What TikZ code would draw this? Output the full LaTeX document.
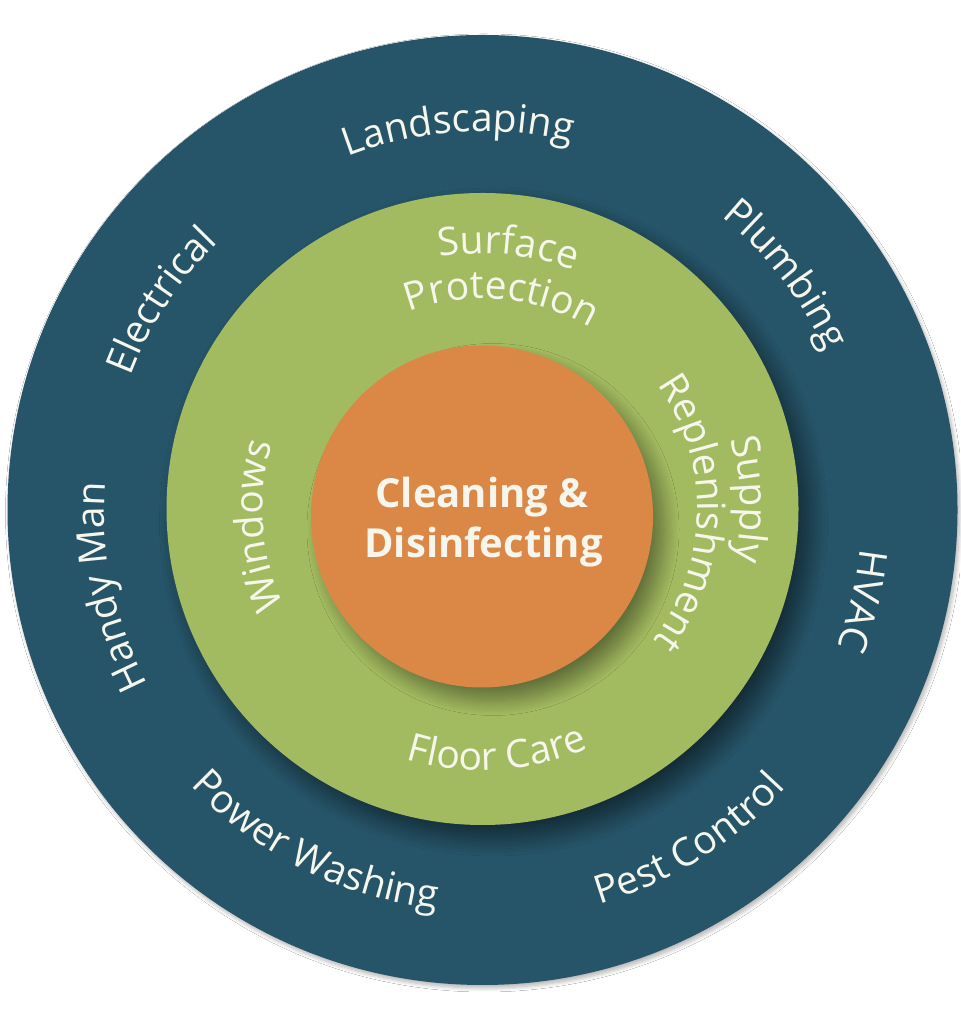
\documentclass[tikz,border=0pt]{standalone}
\usepackage{fontspec}
\setmainfont{Open Sans}
\usetikzlibrary{decorations.text,shadows.blur}
\definecolor{ringouter}{HTML}{265468}
\definecolor{ringmid}{HTML}{A3BB60}
\definecolor{ringcore}{HTML}{DB8847}
\definecolor{labeltext}{HTML}{F6F6EC}
\newcommand\labelfont{\fontsize{39}{47}\selectfont}
\def\cx{482.5}
\def\cy{514.5}
% clockwise label: tops point outward
\newcommand\cwlabel[3]{%
  \path[decorate,decoration={text along path,text align=center,
      text={|\labelfont\color{labeltext}|#3}}]
    ({\cx+#2*cos(#1+70)},{\cy+#2*sin(#1+70)}) arc[start angle={#1+70},end angle={#1-70},radius=#2];
}
% counter-clockwise label: tops point inward
\newcommand\ccwlabel[3]{%
  \path[decorate,decoration={text along path,text align=center,
      text={|\labelfont\color{labeltext}|#3}}]
    ({\cx+#2*cos(#1-70)},{\cy+#2*sin(#1-70)}) arc[start angle={#1-70},end angle={#1+70},radius=#2];
}
\tikzset{
  centretext/.style={font=\fontsize{40}{48}\selectfont\bfseries,text=labeltext,anchor=base,inner sep=0pt},
}
\begin{document}
\begin{tikzpicture}[x=1pt,y=1pt]
\fill[white] (0,0) rectangle (960,1024);
\useasboundingbox (0,0) rectangle (960,1024);
% rings
\fill[ringouter,blur shadow={shadow xshift=2pt,shadow yshift=-3pt,shadow blur radius=4pt,shadow opacity=30,shadow blur steps=8}]
  (\cx,514) circle[radius=475];
\fill[ringmid,blur shadow={shadow xshift=11pt,shadow yshift=-13pt,shadow blur radius=18pt,shadow opacity=50,shadow blur steps=14}]
  (482.5,515) circle[radius=316];
\fill[ringcore,blur shadow={shadow xshift=11pt,shadow yshift=-13pt,shadow blur radius=15pt,shadow opacity=40,shadow blur steps=14}]
  (482,507.5) circle[radius=171];
% outer labels
\cwlabel{93.7}{378}{Landscaping}
\cwlabel{37.8}{378}{Plumbing}
\cwlabel{147}{376}{Electrical}
\cwlabel{191.8}{378}{Handy Man}
\cwlabel{-13.5}{380}{HVAC}
\ccwlabel{-116.6}{402}{Power Washing}
\ccwlabel{-58}{412}{Pest Control}
% middle labels
\cwlabel{84.4}{256}{Surface}
\cwlabel{84.8}{211}{Protection}
\cwlabel{184.2}{220}{Windows}
\cwlabel{2.2}{258}{Supply}
\cwlabel{-1}{215}{Replenishment}
\ccwlabel{-86.5}{261}{Floor Care}
% centre
\node[centretext] (cleaning) at (482,516) {Cleaning \&};
\node[centretext] (disinfecting) at (483.5,466) {Disinfecting};
\end{tikzpicture}
\end{document}
